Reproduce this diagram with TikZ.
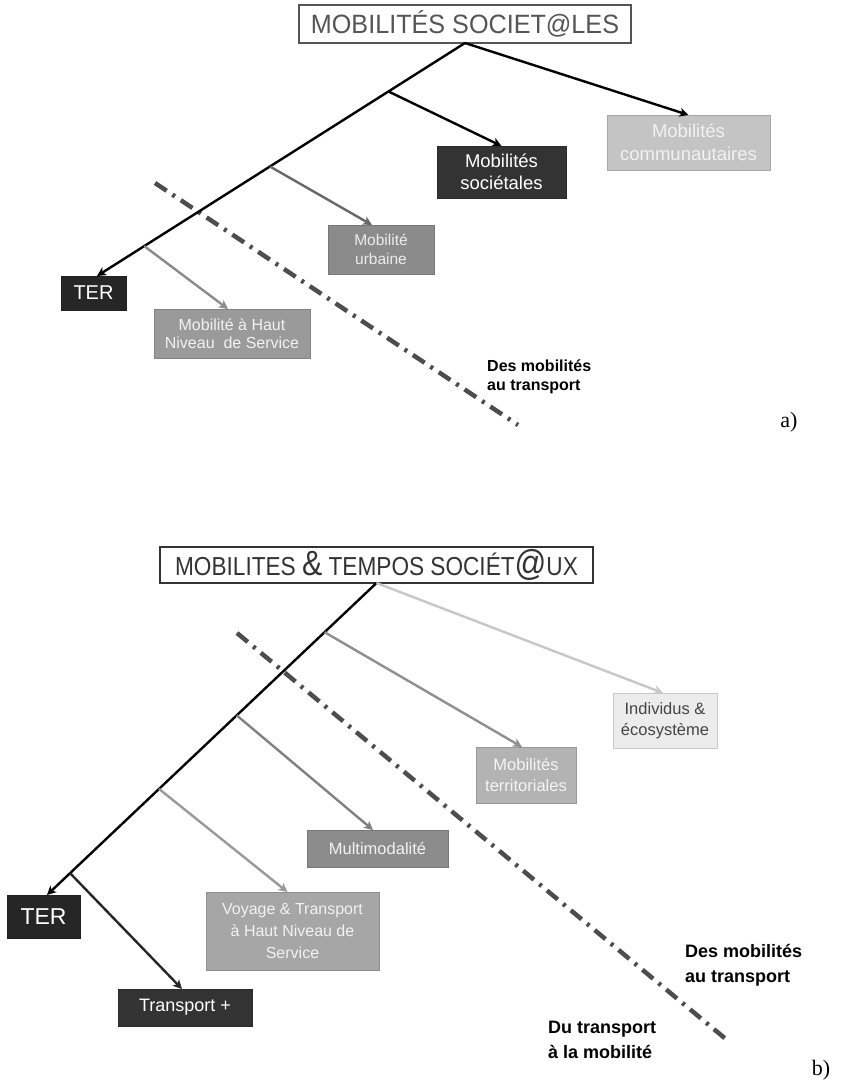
\documentclass[tikz,border=0pt]{standalone}
\usepackage{fontspec}
\setmainfont{Liberation Sans}
\newfontfamily\serifx{Liberation Serif}
\usetikzlibrary{arrows.meta,calc}
\definecolor{cTer}{HTML}{262626}
\definecolor{cSoc}{HTML}{333333}
\definecolor{cCom}{HTML}{C4C4C4}
\definecolor{cUrb}{HTML}{8B8B8B}
\definecolor{cHns}{HTML}{9A9A9A}
\definecolor{cTerr}{HTML}{B3B3B3}
\definecolor{cMul}{HTML}{8C8C8C}
\definecolor{cVoy}{HTML}{A6A6A6}
\definecolor{cInd}{HTML}{ECECEC}
\definecolor{cTitleA}{HTML}{555555}
\definecolor{cTitleB}{HTML}{333333}
\definecolor{cDash}{HTML}{4D4D4D}
\newcommand{\fsz}[2]{\fontsize{#1}{#2}\selectfont}
\tikzset{
  box/.style={rectangle, inner sep=0pt, outer sep=0pt, align=center, draw=#1!85!black, line width=0.6pt, fill=#1},
  titlebox/.style={rectangle, inner sep=0pt, outer sep=0pt, draw=#1, line width=1.4pt, fill=white},
  conn/.style={line width=2.4pt, draw=#1, -{Stealth[length=9pt,width=9pt,inset=2.5pt]}},
  divider/.style={line width=4.5pt, draw=cDash, dash pattern=on 14pt off 7pt on 3pt off 7pt},
  note/.style={anchor=west, align=left, inner sep=0pt},
}
\begin{document}
\begin{tikzpicture}[x=1pt,y=-1pt]
\useasboundingbox (0,0) rectangle (843,1084);
% ---------------- a) ----------------
\node[titlebox=cTitleA, minimum width=332, minimum height=38, text=cTitleA] (tA) at (465,24)
  {\scalebox{0.95}[1]{\fsz{26.5}{30}MOBILITÉS SOCIET@LES}};
\node[box=cTer, minimum width=65, minimum height=34, text=white, font=\fsz{20}{22}] (terA) at (93.5,293) {TER};
\node[box=cSoc, minimum width=129, minimum height=52, text=white, font=\fsz{18.5}{22}] (socA) at (501.5,172)
  {Mobilités\\sociétales};
\node[box=cCom, minimum width=163, minimum height=55, text={white!95!black}, font=\fsz{18.5}{23}] (comA) at (688.5,142.5)
  {Mobilités\\communautaires};
\node[box=cUrb, minimum width=106, minimum height=49, text={white!93!black}, font=\fsz{15.5}{19}] (urbA) at (381,249.5)
  {Mobilité\\urbaine};
\node[box=cHns, minimum width=156, minimum height=49, text={white!95!black}, font=\fsz{16}{18}] (hnsA) at (232,333.5)
  {Mobilité à Haut\\Niveau\ \ de Service};
\coordinate (tipA) at ([xshift=3.5]terA.north);
\coordinate (pA1) at ($(tA.south)!0.208!(tipA)$);
\coordinate (pA2) at ($(tA.south)!0.53!(tipA)$);
\coordinate (pA3) at ($(tA.south)!0.8716!(tipA)$);
\coordinate (dA1) at (155,183);
\coordinate (dA2) at (518,425);
\draw[divider] (dA1) -- (dA2);
\draw[conn=black] (tA.south) -- (tipA);
\draw[conn=black] (tA.south) -- (comA.north);
\draw[conn=black] (pA1) -- (socA.north);
\draw[conn={cUrb!75!black}] (pA2) -- ([xshift=-9]urbA.north);
\draw[conn={cHns!90!black}] (pA3) -- ([xshift=-4]hnsA.north);
\node[note, font=\bfseries\fsz{16}{19}] (noteA) at (487,377) {Des mobilités\\au transport};
\node[inner sep=0pt, font=\serifx\fsz{22}{24}] (labA) at (789,422) {a)};
% ---------------- b) ----------------
\node[titlebox=cTitleB, minimum width=433, minimum height=36, text=cTitleB] (tB) at (376.5,565)
  {\scalebox{0.87}[1]{\fsz{26}{30}MOBILITES {\fsz{35}{30}\&} TEMPOS SOCIÉT{\fsz{36}{30}@}UX}};
\node[box=cTer, minimum width=73, minimum height=43, text=white, font=\fsz{23}{25}] (terB) at (43.5,916.5) {TER};
\node[box=cSoc, minimum width=134, minimum height=37, text=white, font=\fsz{18}{20}] (trpB) at (185,1007.5) {Transport +};
\node[box=cVoy, minimum width=173, minimum height=78, text={white!95!black}, font=\fsz{16}{22}] (voyB) at (292.5,931)
  {Voyage \& Transport\\à Haut Niveau de\\Service};
\node[box=cMul, minimum width=141, minimum height=37, text={white!95!black}, font=\fsz{16.5}{20}] (mulB) at (377.5,848.5)
  {Multimodalité};
\node[box=cTerr, minimum width=100, minimum height=56, text={white!96!black}, font=\fsz{16.5}{21}] (terrB) at (526,775)
  {Mobilités\\territoriales};
\node[box=cInd, minimum width=104, minimum height=55, text={black!73}, font=\fsz{16.5}{21}] (indB) at (665,720.5)
  {Individus \&\\écosystème};
\coordinate (tipB) at ([xshift=3.5]terB.north);
\coordinate (pB1) at ($(tB.south)!0.1576!(tipB)$);
\coordinate (pB2) at ($(tB.south)!0.4242!(tipB)$);
\coordinate (pB3) at ($(tB.south)!0.66!(tipB)$);
\coordinate (pB4) at ($(tB.south)!0.93!(tipB)$);
\coordinate (dB1) at (237,633);
\coordinate (dB2) at (727,1040);
\draw[divider] (dB1) -- (dB2);
\draw[conn=black] (tB.south) -- (tipB);
\draw[conn={black!85}] (pB4) -- ([xshift=-3]trpB.north);
\draw[conn={cVoy!92!black}] (pB3) -- ([xshift=-5]voyB.north);
\draw[conn={cMul!92!black}] (pB2) -- ([xshift=-4.5]mulB.north);
\draw[conn={cTerr!80!black}] (pB1) -- ([xshift=-4]terrB.north);
\draw[conn={black!22}] (tB.south) -- ([xshift=-2]indB.north);
\node[note, font=\bfseries\fsz{18}{25}] (noteB1) at (685,965.5) {Des mobilités\\au transport};
\node[note, font=\bfseries\fsz{18}{25}] (noteB2) at (548,1039.5) {Du transport\\à la mobilité};
\node[inner sep=0pt, font=\serifx\fsz{22}{24}] (labB) at (821,1070) {b)};
\end{tikzpicture}
\end{document}
